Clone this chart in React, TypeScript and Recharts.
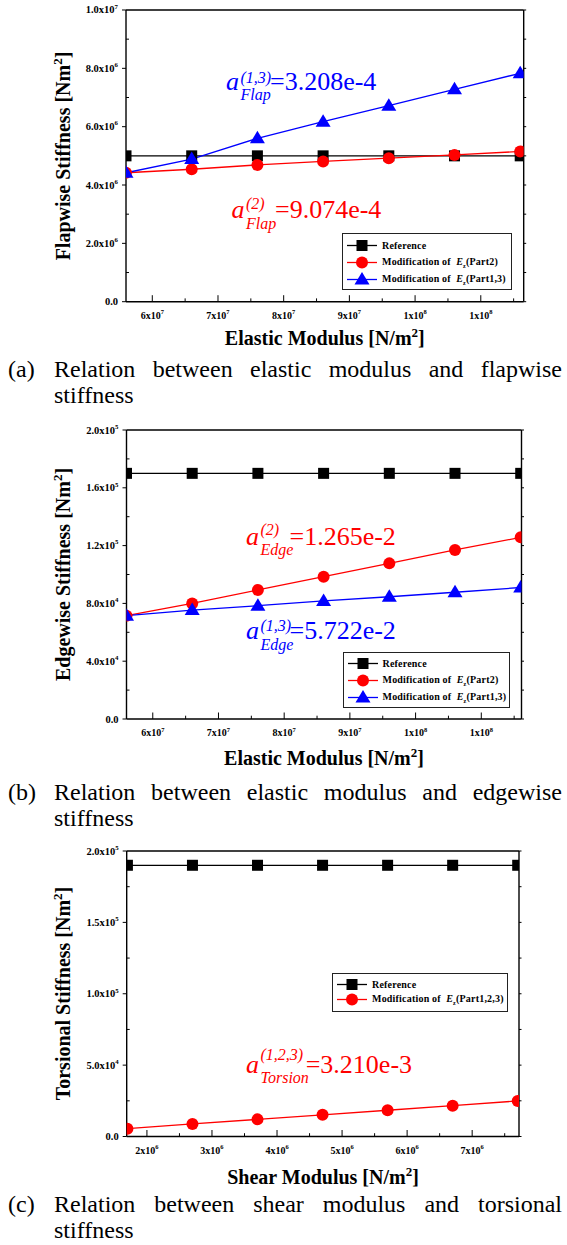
import React from "react";
import { LineChart, Line, XAxis, YAxis, Legend } from "recharts";

const SERIF = "'Liberation Serif', 'Times New Roman', serif";

// x values of the points
const elasticModulus = [5.6e7, 6.6e7, 7.6e7, 8.6e7, 9.6e7, 1.06e8, 1.16e8];
const shearModulus = [1.7e6, 2.7e6, 3.7e6, 4.7e6, 5.7e6, 6.7e6, 7.7e6];

// (a) flapwise stiffness
const flapReference = [5.0e6, 5.0e6, 5.0e6, 5.0e6, 5.0e6, 5.0e6, 5.0e6];
const flapPart2 = [4.42e6, 4.54e6, 4.69e6, 4.81e6, 4.92e6, 5.03e6, 5.15e6];
const flapPart13 = [4.42e6, 4.89e6, 5.6e6, 6.17e6, 6.72e6, 7.28e6, 7.83e6];

// (b) edgewise stiffness
const edgeReference = [1.7e5, 1.7e5, 1.7e5, 1.7e5, 1.7e5, 1.7e5, 1.7e5];
const edgePart2 = [7.15e4, 8.0e4, 8.93e4, 9.85e4, 1.077e5, 1.17e5, 1.257e5];
const edgePart13 = [7.15e4, 7.54e4, 7.84e4, 8.17e4, 8.46e4, 8.77e4, 9.1e4];

// (c) torsional stiffness
const torsionReference = [1.9e5, 1.9e5, 1.9e5, 1.9e5, 1.9e5, 1.9e5, 1.9e5];
const torsionPart123 = [5.5e3, 8.8e3, 1.2e4, 1.52e4, 1.84e4, 2.16e4, 2.49e4];

// ticks
const elasticTicks = [6e7, 7e7, 8e7, 9e7, 1e8, 1.1e8];
const elasticTickLabels = ["6x10^7", "7x10^7", "8x10^7", "9x10^7", "1x10^8", "1x10^8"];
const elasticMinor = [6.5e7, 7.5e7, 8.5e7, 9.5e7, 1.05e8, 1.15e8];
const shearTicks = [2e6, 3e6, 4e6, 5e6, 6e6, 7e6];
const shearTickLabels = ["2x10^6", "3x10^6", "4x10^6", "5x10^6", "6x10^6", "7x10^6"];
const shearMinor = [2.5e6, 3.5e6, 4.5e6, 5.5e6, 6.5e6, 7.5e6];

const flapTicks = [0, 2e6, 4e6, 6e6, 8e6, 1e7];
const flapTickLabels = ["0.0", "2.0x10^6", "4.0x10^6", "6.0x10^6", "8.0x10^6", "1.0x10^7"];
const flapMinor = [1e6, 3e6, 5e6, 7e6, 9e6];
const edgeTicks = [0, 4e4, 8e4, 1.2e5, 1.6e5, 2e5];
const edgeTickLabels = ["0.0", "4.0x10^4", "8.0x10^4", "1.2x10^5", "1.6x10^5", "2.0x10^5"];
const edgeMinor = [2e4, 6e4, 1e5, 1.4e5, 1.8e5];
const torsionTicks = [0, 5e4, 1e5, 1.5e5, 2e5];
const torsionTickLabels = ["0.0", "5.0x10^4", "1.0x10^5", "1.5x10^5", "2.0x10^5"];
const torsionMinor = [2.5e4, 7.5e4, 1.25e5, 1.75e5];

type Shape = "square" | "circle" | "triangle";

function Marker({ shape, color, cx, cy }: { shape: Shape; color: string; cx: number; cy: number }) {
  if (shape === "square") return <rect x={cx - 5.5} y={cy - 5.5} width={11} height={11} fill={color} />;
  if (shape === "circle") return <circle cx={cx} cy={cy} r={6} fill={color} />;
  return <polygon points={`${cx},${cy - 7.5} ${cx - 7.5},${cy + 5} ${cx + 7.5},${cy + 5}`} fill={color} />;
}

const dotFor = (shape: Shape, color: string) => (p: any) => {
  if (p.cx == null || p.cy == null) return <g key={p.index} />;
  return <Marker key={p.index} shape={shape} color={color} cx={p.cx} cy={p.cy} />;
};

// "6x10^7" -> 6x10 with superscript 7
function PowText({ x, y, text, anchor, size }: { x: number; y: number; text: string; anchor: "middle" | "end"; size: number }) {
  const [base, exp] = text.split("^");
  return (
    <text x={x} y={y} textAnchor={anchor} fontFamily={SERIF} fontWeight="bold" fontSize={size} fill="#000">
      <tspan>{base}</tspan>
      {exp && (
        <tspan dy={-size * 0.45} fontSize={size * 0.65}>
          {exp}
        </tspan>
      )}
    </text>
  );
}

type SeriesDef = { key: string; color: string; shape: Shape; values: number[]; label: React.ReactNode };
type Box = { left: number; right: number; top: number; bottom: number };
type LegendBox = { left: number; top: number; width: number; height: number; padTop: number; rowH: number };

function Panel(props: {
  plot: Box;
  xs: number[];
  xDomain: [number, number];
  xTicks: number[];
  xTickLabels: string[];
  xMinor: number[];
  yDomain: [number, number];
  yTicks: number[];
  yTickLabels: string[];
  yMinor: number[];
  series: SeriesDef[];
  legend: LegendBox;
}) {
  const { plot, xTicks, xTickLabels, yTicks, yTickLabels, series, legend } = props;
  const panelTop = plot.top - 10;
  const height = plot.bottom - panelTop + 50;
  const data = props.xs.map((x, i) => {
    const row: any = { x };
    series.forEach((s) => (row[s.key] = s.values[i]));
    return row;
  });

  const bottomTick = (p: any) => {
    const i = xTicks.indexOf(p.payload.value);
    const len = i >= 0 ? 6.5 : 3.3;
    return (
      <g>
        <line x1={p.x} x2={p.x} y1={p.y} y2={p.y - len} stroke="#000" strokeWidth={1} />
        {i >= 0 && <PowText x={p.x} y={p.y + 17} text={xTickLabels[i]} anchor="middle" size={10} />}
      </g>
    );
  };
  const topTick = (p: any) => (
    <line x1={p.x} x2={p.x} y1={p.y} y2={p.y + 2.5} stroke="#000" strokeWidth={1} />
  );
  const leftTick = (p: any) => {
    const i = yTicks.indexOf(p.payload.value);
    return (
      <g>
        {i >= 0 ? (
          <line x1={p.x - 4} x2={p.x} y1={p.y} y2={p.y} stroke="#000" strokeWidth={1} />
        ) : (
          <line x1={p.x} x2={p.x + 3} y1={p.y} y2={p.y} stroke="#000" strokeWidth={1} />
        )}
        {i >= 0 && <PowText x={p.x - 8} y={p.y + 3.5} text={yTickLabels[i]} anchor="end" size={10.5} />}
      </g>
    );
  };
  const rightTick = (p: any) => (
    <line x1={p.x} x2={p.x + 2.5} y1={p.y} y2={p.y} stroke="#000" strokeWidth={1} />
  );

  const axisLine = { stroke: "#000", strokeWidth: 1.4 };
  const allX = [...xTicks, ...props.xMinor];
  const allY = [...yTicks, ...props.yMinor];

  const renderLegend = () => (
    <div
      style={{
        boxSizing: "border-box",
        width: legend.width,
        height: legend.height,
        border: "1px solid #222",
        background: "#fff",
        paddingTop: legend.padTop,
        fontFamily: SERIF,
        fontWeight: "bold",
        fontSize: 10,
        color: "#000",
      }}
    >
      {series.map((s) => (
        <div key={s.key} style={{ display: "flex", alignItems: "center", height: legend.rowH }}>
          <svg width={36} height={legend.rowH} style={{ flex: "none", marginLeft: 3 }}>
            <line x1={1} x2={31} y1={legend.rowH / 2} y2={legend.rowH / 2} stroke={s.color} strokeWidth={1.3} />
            <Marker shape={s.shape} color={s.color} cx={16} cy={legend.rowH / 2} />
          </svg>
          <span style={{ whiteSpace: "nowrap", letterSpacing: 0.2 }}>{s.label}</span>
        </div>
      ))}
    </div>
  );

  return (
    <div style={{ position: "absolute", left: 0, top: panelTop }}>
      <LineChart
        width={567}
        height={height}
        data={data}
        margin={{ top: 9, right: 567 - plot.right - 1, bottom: 10, left: 0 }}
      >
        <XAxis
          dataKey="x"
          type="number"
          domain={props.xDomain}
          allowDataOverflow
          ticks={allX}
          interval={0}
          tickSize={0}
          tickMargin={0}
          tickLine={false}
          tick={bottomTick}
          height={40}
          axisLine={axisLine}
        />
        <XAxis
          xAxisId="top"
          orientation="top"
          type="number"
          domain={props.xDomain}
          allowDataOverflow
          ticks={allX}
          interval={0}
          tickSize={0}
          tickMargin={0}
          tickLine={false}
          tick={topTick}
          height={1}
          axisLine={axisLine}
        />
        <YAxis
          type="number"
          domain={props.yDomain}
          allowDataOverflow
          ticks={allY}
          interval={0}
          tickSize={0}
          tickMargin={0}
          tickLine={false}
          tick={leftTick}
          width={plot.left}
          axisLine={axisLine}
        />
        <YAxis
          yAxisId="right"
          orientation="right"
          type="number"
          domain={props.yDomain}
          allowDataOverflow
          ticks={allY}
          interval={0}
          tickSize={0}
          tickMargin={0}
          tickLine={false}
          tick={rightTick}
          width={1}
          axisLine={axisLine}
        />
        <Legend
          layout="vertical"
          align="center"
          verticalAlign="middle"
          content={renderLegend}
          wrapperStyle={{ left: legend.left, top: legend.top - panelTop, width: legend.width, height: legend.height }}
        />
        {series.map((s) => (
          <Line
            key={s.key}
            type="linear"
            dataKey={s.key}
            stroke={s.color}
            strokeWidth={1.3}
            dot={dotFor(s.shape, s.color)}
            activeDot={false}
            isAnimationActive={false}
          />
        ))}
      </LineChart>
    </div>
  );
}

const ModLabel = ({ part }: { part: string }) => (
  <>
    Modification of&nbsp;&nbsp;<i>E</i>
    <sub style={{ fontSize: 6 }}>z</sub>({part})
  </>
);

function Coef(props: {
  x: number;
  y: number;
  sup: string;
  sub: string;
  value: string;
  valueX: number;
  color: string;
  supDy: number;
  subDy: number;
}) {
  const { x, y, color } = props;
  return (
    <g fill={color} fontFamily={SERIF}>
      <text x={x} y={y} fontSize={26} fontStyle="italic">
        a
      </text>
      <text x={x + 14.5} y={y + props.supDy} fontSize={16} fontStyle="italic">
        {props.sup}
      </text>
      <text x={x + 14.5} y={y + props.subDy} fontSize={16} fontStyle="italic">
        {props.sub}
      </text>
      <text x={props.valueX} y={y} fontSize={26}>
        {props.value}
      </text>
    </g>
  );
}

function AxisTitle({ x, y, text, rotate }: { x: number; y: number; text: string; rotate?: boolean }) {
  return (
    <text
      x={x}
      y={y}
      textAnchor="middle"
      fontFamily={SERIF}
      fontWeight="bold"
      fontSize={20}
      fill="#000"
      transform={rotate ? `rotate(-90 ${x} ${y})` : undefined}
    >
      <tspan>{text}</tspan>
      <tspan dy={-8} fontSize={13}>
        2
      </tspan>
      <tspan dy={8}>]</tspan>
    </text>
  );
}

function Caption({ top, tag, line1, line2 }: { top: number; tag: string; line1: string; line2: string }) {
  return (
    <div
      style={{
        position: "absolute",
        left: 8,
        top,
        width: 554,
        fontFamily: SERIF,
        fontSize: 24,
        lineHeight: "26px",
        color: "#000",
      }}
    >
      <div style={{ display: "flex" }}>
        <span style={{ width: 46, flex: "none" }}>{tag}</span>
        <span style={{ flex: 1, textAlign: "justify", textAlignLast: "justify" }}>{line1}</span>
      </div>
      <div style={{ paddingLeft: 46 }}>{line2}</div>
    </div>
  );
}

export default function App() {
  const refLabel = "Reference";
  return (
    <div style={{ position: "absolute", left: 0, top: 0, width: 567, height: 1245, background: "#fff", overflow: "hidden" }}>
      <Panel
        plot={{ left: 126, right: 523.7, top: 10, bottom: 301.7 }}
        xs={elasticModulus}
        xDomain={[5.6e7, 1.1653e8]}
        xTicks={elasticTicks}
        xTickLabels={elasticTickLabels}
        xMinor={elasticMinor}
        yDomain={[0, 1e7]}
        yTicks={flapTicks}
        yTickLabels={flapTickLabels}
        yMinor={flapMinor}
        series={[
          { key: "ref", color: "#000000", shape: "square", values: flapReference, label: refLabel },
          { key: "p2", color: "#ff0000", shape: "circle", values: flapPart2, label: <ModLabel part="Part2" /> },
          { key: "p13", color: "#0000ff", shape: "triangle", values: flapPart13, label: <ModLabel part="Part1,3" /> },
        ]}
        legend={{ left: 342, top: 233, width: 170, height: 57, padTop: 3, rowH: 17 }}
      />
      <Panel
        plot={{ left: 126.5, right: 521.5, top: 430, bottom: 719 }}
        xs={elasticModulus}
        xDomain={[5.6e7, 1.1612e8]}
        xTicks={elasticTicks}
        xTickLabels={elasticTickLabels}
        xMinor={elasticMinor}
        yDomain={[0, 2e5]}
        yTicks={edgeTicks}
        yTickLabels={edgeTickLabels}
        yMinor={edgeMinor}
        series={[
          { key: "ref", color: "#000000", shape: "square", values: edgeReference, label: refLabel },
          { key: "p2", color: "#ff0000", shape: "circle", values: edgePart2, label: <ModLabel part="Part2" /> },
          { key: "p13", color: "#0000ff", shape: "triangle", values: edgePart13, label: <ModLabel part="Part1,3" /> },
        ]}
        legend={{ left: 342.5, top: 652, width: 167, height: 56, padTop: 2, rowH: 17 }}
      />
      <Panel
        plot={{ left: 126.7, right: 519, top: 851, bottom: 1136.5 }}
        xs={shearModulus}
        xDomain={[1.689e6, 7.72e6]}
        xTicks={shearTicks}
        xTickLabels={shearTickLabels}
        xMinor={shearMinor}
        yDomain={[0, 2e5]}
        yTicks={torsionTicks}
        yTickLabels={torsionTickLabels}
        yMinor={torsionMinor}
        series={[
          { key: "ref", color: "#000000", shape: "square", values: torsionReference, label: refLabel },
          { key: "p123", color: "#ff0000", shape: "circle", values: torsionPart123, label: <ModLabel part="Part1,2,3" /> },
        ]}
        legend={{ left: 332, top: 973, width: 176, height: 39, padTop: 3, rowH: 15 }}
      />

      <svg width={567} height={1245} style={{ position: "absolute", left: 0, top: 0, pointerEvents: "none" }}>
        <AxisTitle x={324.8} y={345} text="Elastic Modulus [N/m" />
        <AxisTitle x={70} y={156} text="Flapwise Stiffness [Nm" rotate />
        <AxisTitle x={324} y={765} text="Elastic Modulus [N/m" />
        <AxisTitle x={70} y={574.5} text="Edgewise Stiffness [Nm" rotate />
        <AxisTitle x={323} y={1184} text="Shear Modulus [N/m" />
        <AxisTitle x={70} y={993.5} text="Torsional Stiffness [Nm" rotate />

        <Coef x={226} y={90} sup="(1,3)" sub="Flap" value="=3.208e-4" valueX={270} color="#0000ff" supDy={-7} subDy={10} />
        <Coef x={231.5} y={218} sup="(2)" sub="Flap" value="=9.074e-4" valueX={275} color="#ff0000" supDy={-9} subDy={11} />
        <Coef x={246} y={545} sup="(2)" sub="Edge" value="=1.265e-2" valueX={289.5} color="#ff0000" supDy={-10} subDy={10} />
        <Coef x={246} y={639} sup="(1,3)" sub="Edge" value="=5.722e-2" valueX={289.5} color="#0000ff" supDy={-8} subDy={11} />
        <Coef x={246} y={1073} sup="(1,2,3)" sub="Torsion" value="=3.210e-3" valueX={305.7} color="#ff0000" supDy={-13} subDy={10} />
      </svg>

      <Caption top={355.6} tag="(a)" line1="Relation between elastic modulus and flapwise" line2="stiffness" />
      <Caption top={779} tag="(b)" line1="Relation between elastic modulus and edgewise" line2="stiffness" />
      <Caption top={1190.6} tag="(c)" line1="Relation between shear modulus and torsional" line2="stiffness" />
    </div>
  );
}
